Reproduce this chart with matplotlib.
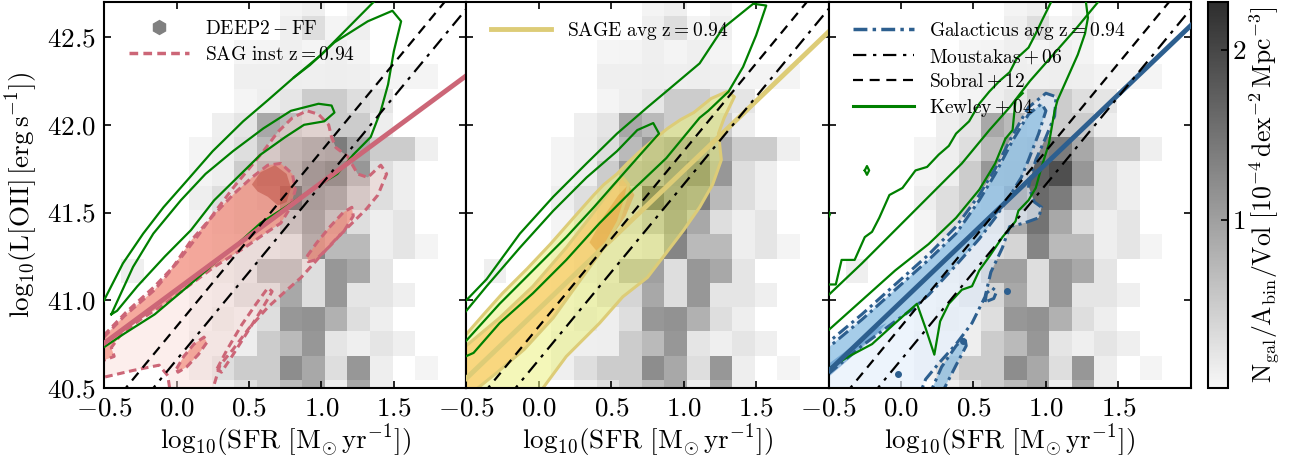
import numpy as np
import matplotlib
matplotlib.use("Agg")
import matplotlib.pyplot as plt
from matplotlib.colors import LinearSegmentedColormap
from matplotlib.lines import Line2D

plt.rcParams['font.family'] = 'serif'
plt.rcParams['font.serif'] = ['cmr10']
plt.rcParams['mathtext.fontset'] = 'cm'
plt.rcParams['axes.formatter.use_mathtext'] = True

# DEEP2 histogram (10^-4 dex^-2 Mpc^-3), rows bottom -> top
sfr_edges = [-0.537, -0.381, -0.225, -0.069, 0.087, 0.243, 0.399, 0.555, 0.711,
             0.867, 1.023, 1.179, 1.335, 1.491, 1.647, 1.803, 1.959]
loii_edges = [40.407, 40.545, 40.684, 40.822, 40.961, 41.099, 41.238, 41.376, 41.515,
              41.653, 41.792, 41.930, 42.069, 42.207, 42.346, 42.484, 42.623, 42.761]
deep2_density = [
    [0, 0, 0, 0, 0, 0.12, 0.3, 0.5, 0.7, 0.9, 0.12, 0.9, 0.12, 0, 0, 0],
    [0, 0, 0, 0, 0.1, 0.3, 0.5, 0.5, 1.2, 0.9, 0.3, 1.1, 0.12, 0, 0.05, 0],
    [0, 0, 0, 0, 0.1, 0.1, 0.12, 0.5, 0.7, 1.1, 0.22, 0.1, 0.22, 0.1, 0, 0],
    [0, 0, 0, 0, 0.05, 0.2, 0.12, 0.3, 1.1, 1.15, 0.8, 0.3, 0.12, 0, 0, 0],
    [0, 0, 0, 0, 0.05, 0.12, 0.4, 0.4, 0.9, 0.3, 1.1, 0.22, 0.22, 0.1, 0, 0],
    [0, 0.1, 0, 0, 0.05, 0.2, 0.3, 1.0, 1.0, 0.3, 1.1, 0.9, 0.22, 0, 0, 0],
    [0, 0, 0, 0, 0.05, 0.2, 0.3, 0.3, 0.4, 1.3, 0.7, 0.7, 0.12, 0.22, 0.05, 0],
    [0, 0, 0, 0, 0.05, 0.3, 0.5, 0.5, 0.9, 1.5, 0.9, 0.3, 0.12, 0.22, 0, 0],
    [0, 0, 0, 0, 0.12, 0.3, 0.5, 0.7, 2.28, 1.6, 1.4, 0.7, 0.3, 0.12, 0, 0],
    [0, 0, 0, 0, 0.05, 0.12, 0.5, 1.1, 1.2, 1.7, 1.9, 1.1, 0.3, 0.12, 0, 0],
    [0, 0, 0, 0, 0.05, 0.12, 0.3, 0.7, 1.1, 1.3, 1.4, 0.9, 0.5, 0.5, 0.1, 0],
    [0, 0, 0, 0, 0, 0.1, 0.22, 0.9, 0.7, 0.5, 0.5, 0.5, 0.12, 0, 0, 0],
    [0, 0, 0, 0, 0, 0, 0.05, 0.12, 0.2, 0.5, 0.5, 0.3, 0.22, 0, 0, 0],
    [0, 0, 0, 0, 0, 0, 0.1, 0.1, 0.12, 0.1, 0.12, 0.1, 0.05, 0.05, 0.05, 0],
    [0, 0, 0, 0, 0, 0, 0.03, 0.05, 0.1, 0.05, 0.1, 0.05, 0, 0, 0, 0],
    [0, 0, 0, 0, 0, 0, 0, 0, 0.1, 0.3, 0.05, 0.1, 0, 0, 0, 0],
    [0, 0, 0, 0, 0, 0, 0, 0, 0.05, 0.1, 0, 0.05, 0, 0, 0, 0],
]

# straight relations: (slope, intercept) in log10 L[OII] vs log10 SFR
moustakas06 = (1.0, 40.66)
sobral12 = (1.0, 40.85)
sag_fit = (0.61, 41.06)
sage_fit = (0.79, 40.95)
galacticus_fit = (0.788, 40.99)

# SAG inst contours (outer, middle, inner + islands)
sag_outer = [(-0.56, 40.75), (-0.35, 40.93), (-0.15, 41.08), (0.0, 41.21), (0.15, 41.37),
             (0.28, 41.52), (0.40, 41.65), (0.50, 41.75), (0.60, 41.85), (0.70, 41.96),
             (0.80, 42.04), (0.90, 42.08), (0.98, 42.06), (1.05, 42.0), (1.07, 41.93),
             (1.10, 41.87), (1.18, 41.82), (1.25, 41.72), (1.32, 41.70), (1.41, 41.77),
             (1.45, 41.72), (1.39, 41.60), (1.31, 41.52), (1.20, 41.43), (1.09, 41.34),
             (0.98, 41.24), (0.86, 41.13), (0.75, 41.05), (0.63, 40.96), (0.50, 40.84),
             (0.39, 40.72), (0.30, 40.63), (0.26, 40.52), (0.23, 40.40), (-0.03, 40.40),
             (-0.06, 40.57), (-0.12, 40.63), (-0.30, 40.60), (-0.56, 40.55)]
sag_mid = [(-0.56, 40.74), (-0.36, 40.91), (-0.15, 41.06), (-0.04, 41.17), (0.10, 41.34),
           (0.26, 41.49), (0.40, 41.61), (0.52, 41.70), (0.63, 41.77), (0.72, 41.78),
           (0.80, 41.72), (0.82, 41.63), (0.78, 41.52), (0.72, 41.44), (0.61, 41.38),
           (0.47, 41.30), (0.26, 41.19), (0.08, 41.08), (-0.08, 40.98), (-0.25, 40.89),
           (-0.38, 40.81), (-0.45, 40.73), (-0.43, 40.68), (-0.56, 40.64)]
sag_mid_b = [(0.90, 41.25), (0.97, 41.33), (1.06, 41.42), (1.15, 41.50), (1.21, 41.53),
             (1.22, 41.48), (1.16, 41.40), (1.06, 41.31), (0.96, 41.23), (0.91, 41.22)]
sag_mid_c = [(0.0, 40.61), (0.05, 40.68), (0.12, 40.75), (0.19, 40.79), (0.21, 40.76),
             (0.15, 40.69), (0.07, 40.62), (0.01, 40.59)]
sag_inner = [(0.52, 41.66), (0.58, 41.73), (0.68, 41.77), (0.76, 41.72), (0.79, 41.64),
             (0.76, 41.56), (0.70, 41.54), (0.63, 41.59), (0.56, 41.62)]
sag_hole = [(0.28, 40.61), (0.35, 40.72), (0.45, 40.86), (0.55, 40.98), (0.63, 41.07),
            (0.66, 41.05), (0.59, 40.95), (0.49, 40.82), (0.39, 40.69), (0.31, 40.59)]

# SAGE avg contours
sage_outer = [(-0.56, 40.75), (-0.38, 40.92), (-0.25, 41.04), (-0.08, 41.18), (0.08, 41.32),
              (0.24, 41.47), (0.38, 41.60), (0.45, 41.66), (0.54, 41.72), (0.61, 41.78),
              (0.70, 41.85), (0.80, 41.92), (0.89, 41.98), (0.98, 42.03), (1.07, 42.07),
              (1.19, 42.15), (1.30, 42.19), (1.35, 42.16), (1.28, 42.04), (1.24, 41.95),
              (1.26, 41.80), (1.20, 41.66), (1.11, 41.53), (1.0, 41.40), (0.88, 41.27),
              (0.75, 41.13), (0.58, 41.02), (0.42, 40.87), (0.19, 40.68), (-0.06, 40.40),
              (-0.56, 40.40)]
sage_mid = [(-0.56, 40.70), (-0.27, 40.90), (-0.04, 41.08), (0.19, 41.30), (0.35, 41.47),
            (0.45, 41.58), (0.52, 41.66), (0.58, 41.70), (0.62, 41.66), (0.60, 41.58),
            (0.55, 41.45), (0.45, 41.30), (0.30, 41.13), (0.10, 40.90), (-0.10, 40.72),
            (-0.30, 40.58), (-0.45, 40.48), (-0.56, 40.45)]
sage_inner = [(0.35, 41.33), (0.45, 41.48), (0.55, 41.60), (0.62, 41.66), (0.66, 41.60),
              (0.60, 41.48), (0.50, 41.36), (0.40, 41.28)]

# Galacticus avg contours
gal_outer = [(-0.56, 40.72), (-0.27, 40.92), (-0.04, 41.09), (0.19, 41.26), (0.38, 41.42),
             (0.54, 41.60), (0.65, 41.75), (0.77, 41.94), (0.88, 42.10), (1.0, 42.18),
             (1.07, 42.16), (1.06, 42.05), (1.0, 41.93), (0.93, 41.80), (0.88, 41.65),
             (0.92, 41.56), (0.97, 41.53), (0.95, 41.47), (0.85, 41.44), (0.75, 41.42),
             (0.70, 41.30), (0.62, 41.16), (0.58, 41.02), (0.49, 40.87), (0.38, 40.75),
             (0.26, 40.64), (0.17, 40.55), (0.10, 40.40), (-0.56, 40.40)]
gal_mid = [(-0.56, 40.69), (-0.27, 40.89), (-0.04, 41.06), (0.19, 41.23), (0.38, 41.38),
           (0.54, 41.57), (0.65, 41.72), (0.77, 41.91), (0.88, 42.06), (0.97, 42.12),
           (1.0, 42.08), (0.95, 41.95), (0.88, 41.80), (0.83, 41.70), (0.77, 41.62),
           (0.65, 41.47), (0.54, 41.35), (0.38, 41.20), (0.19, 41.03), (0.08, 40.95),
           (-0.04, 40.88), (-0.27, 40.74), (-0.56, 40.54)]
gal_mid_b = [(0.19, 40.45), (0.28, 40.62), (0.38, 40.74), (0.44, 40.79), (0.45, 40.74),
             (0.38, 40.63), (0.30, 40.50), (0.28, 40.45)]
gal_hook = [(0.58, 40.99), (0.59, 41.04), (0.63, 41.07), (0.66, 41.05), (0.64, 41.01)]
gal_inner = [(-0.56, 40.60), (-0.35, 40.73), (-0.2, 40.83), (-0.1, 40.87), (-0.2, 40.78),
             (-0.35, 40.67), (-0.56, 40.52)]
gal_dots_sfr = [0.73, 0.43, -0.02]
gal_dots_loii = [41.05, 40.77, 40.58]

# Kewley+04 contours, one set per model
kewley_sag = [
    [(-0.56, 40.91), (-0.5, 41.0), (-0.37, 41.21), (-0.23, 41.38), (-0.09, 41.53), (0.07, 41.68),
     (0.25, 41.85), (0.46, 42.02), (0.63, 42.14), (0.81, 42.27), (1.0, 42.40), (1.18, 42.55),
     (1.42, 42.75)],
    [(-0.56, 40.70), (-0.36, 40.81), (-0.15, 40.92), (0.08, 41.08), (0.26, 41.21), (0.42, 41.32),
     (0.58, 41.44), (0.75, 41.53), (0.93, 41.63), (1.11, 41.72), (1.22, 41.83), (1.34, 41.93),
     (1.41, 42.08), (1.46, 42.23), (1.50, 42.42), (1.55, 42.59), (1.49, 42.65), (1.32, 42.59),
     (1.09, 42.47), (0.92, 42.34), (0.81, 42.27)],
    [(-0.45, 40.92), (-0.30, 41.19), (-0.16, 41.38), (0.03, 41.57), (0.2, 41.72), (0.39, 41.85),
     (0.60, 41.98), (0.79, 42.08), (0.98, 42.12), (1.07, 42.11), (1.09, 42.07), (1.02, 42.02),
     (0.88, 42.0), (0.75, 41.93), (0.58, 41.83), (0.42, 41.70), (0.26, 41.57), (0.10, 41.40),
     (-0.08, 41.25), (-0.27, 41.08), (-0.41, 40.94), (-0.45, 40.92)],
]
kewley_sage = [
    [(-0.56, 40.93), (-0.5, 41.0), (-0.36, 41.12), (-0.13, 41.38), (0.10, 41.59), (0.33, 41.78),
     (0.54, 41.95), (0.75, 42.10), (0.88, 42.19), (1.11, 42.35), (1.27, 42.55), (1.48, 42.69),
     (1.57, 42.68), (1.50, 42.51), (1.41, 42.33), (1.31, 42.19), (1.17, 42.08), (1.11, 42.04),
     (0.88, 41.81), (0.65, 41.63), (0.42, 41.44), (0.19, 41.23), (-0.04, 41.04), (-0.27, 40.87),
     (-0.45, 40.70), (-0.56, 40.66)],
    [(-0.56, 40.88), (-0.5, 40.94), (-0.36, 41.08), (-0.13, 41.30), (0.10, 41.51), (0.33, 41.70),
     (0.54, 41.85), (0.68, 41.97), (0.79, 42.01), (0.83, 41.95), (0.70, 41.83), (0.54, 41.68),
     (0.38, 41.53), (0.19, 41.36), (-0.04, 41.17), (-0.27, 40.98), (-0.5, 40.77), (-0.56, 40.73)],
]
kewley_gal = [
    [(-0.56, 41.09), (-0.45, 41.09), (-0.41, 41.23), (-0.32, 41.23), (-0.25, 41.36), (-0.20, 41.39),
     (-0.15, 41.47), (-0.08, 41.60), (0.01, 41.64), (0.10, 41.74), (0.18, 41.76), (0.26, 41.83),
     (0.33, 41.88), (0.38, 41.95), (0.47, 42.02), (0.54, 42.12), (0.61, 42.19), (0.68, 42.25),
     (0.75, 42.30), (0.80, 42.38), (0.88, 42.44), (0.93, 42.52), (0.97, 42.59), (1.06, 42.74)],
    [(-0.56, 40.98), (-0.5, 41.03), (-0.27, 41.21), (-0.04, 41.40), (0.19, 41.59), (0.42, 41.78),
     (0.61, 41.97), (0.75, 42.10), (0.89, 42.25), (1.05, 42.40), (1.21, 42.55), (1.40, 42.74)],
    [(1.27, 42.74), (1.29, 42.61), (1.27, 42.52), (1.22, 42.40), (1.15, 42.27), (1.08, 42.14),
     (1.06, 42.08), (1.02, 41.89), (0.97, 41.76), (0.93, 41.64), (0.88, 41.57), (0.81, 41.51),
     (0.79, 41.45), (0.76, 41.42), (0.70, 41.36), (0.61, 41.25), (0.54, 41.17), (0.49, 41.08),
     (0.42, 41.06), (0.33, 40.98), (0.27, 40.88), (0.23, 40.69), (0.17, 40.84), (0.11, 40.98),
     (-0.04, 40.87), (-0.20, 40.75), (-0.36, 40.68), (-0.5, 40.61), (-0.56, 40.59)],
    [(-0.56, 40.79), (-0.5, 40.83), (-0.27, 41.0), (-0.04, 41.17), (0.19, 41.32), (0.38, 41.47),
     (0.54, 41.63), (0.65, 41.78), (0.72, 41.92), (0.77, 41.97), (0.79, 42.14), (0.84, 42.18)],
    [(-0.25, 41.74), (-0.235, 41.765), (-0.22, 41.74), (-0.235, 41.715), (-0.25, 41.74)],
    [(-0.51, 41.46), (-0.49, 41.49), (-0.51, 41.52)],
]

SAG_C = '#CC6677'
SAGE_C = '#DDCC77'
GAL_C = '#2D5F8F'

grey_cmap = LinearSegmentedColormap.from_list('deep2', ['#f7f7f7', '#2e2e2e'])
dens = np.ma.masked_less_equal(np.array(deep2_density), 0)

fig = plt.figure(figsize=(13.04, 4.66), dpi=100)
left, width, bottom, height = 0.0798, 0.2778, 0.1674, 0.8283
axes = [fig.add_axes([left + i * width, bottom, width, height]) for i in range(3)]
sfr_line = np.array([-0.6, 2.1])


def draw_poly(ax, poly, face, edge, ls, lw=2.2, z=2, outline=True):
    xs, ys = zip(*poly)
    if face is not None:
        ax.fill(xs, ys, color=face, lw=0, zorder=z)
    if outline:
        ax.plot(list(xs) + [xs[0]], list(ys) + [ys[0]], color=edge, ls=ls, lw=lw, zorder=z + 0.5)


for i, ax in enumerate(axes):
    mesh = ax.pcolormesh(sfr_edges, loii_edges, dens, cmap=grey_cmap, vmin=0.01, vmax=2.28,
                         zorder=0)
    ax.set_xlim(-0.5, 2.0)
    ax.set_ylim(40.5, 42.7)
    ax.set_xticks([-0.5, 0.0, 0.5, 1.0, 1.5])
    ax.set_yticks([40.5, 41.0, 41.5, 42.0, 42.5])
    ax.tick_params(direction='in', top=True, right=True, length=5, width=1.2,
                   labelsize=19.5, pad=6)
    for sp in ax.spines.values():
        sp.set_linewidth(1.5)
    ax.set_xlabel(r'$\mathrm{log}_{10}(\rm SFR\ [M_{\odot}\,yr^{-1}])$', fontsize=19.5,
                  labelpad=2)
    ax.xaxis.set_major_formatter(matplotlib.ticker.FormatStrFormatter('$%.1f$'))
    if i > 0:
        ax.tick_params(labelleft=False)

ax1, ax2, ax3 = axes
ax1.set_ylabel(r'$\mathrm{log}_{10}(\rm L[OII]\,[erg\,s^{-1}])$', fontsize=19.5, labelpad=4)
ax1.yaxis.set_major_formatter(matplotlib.ticker.FormatStrFormatter('$%.1f$'))

# panel 1: SAG
draw_poly(ax1, sag_outer, (0.98, 0.86, 0.84, 0.45), SAG_C, (0, (2.5, 1.5)))
draw_poly(ax1, sag_hole, None, SAG_C, (0, (2.5, 1.5)))
for p in (sag_mid, sag_mid_b, sag_mid_c):
    draw_poly(ax1, p, (0.95, 0.52, 0.45, 0.65), SAG_C, (0, (2.5, 1.5)))
draw_poly(ax1, sag_inner, (0.70, 0.25, 0.20, 0.45), SAG_C, '-', outline=False)
ax1.plot(sfr_line, sag_fit[1] + sag_fit[0] * sfr_line, color=SAG_C, lw=3.5, zorder=5)

# panel 2: SAGE
draw_poly(ax2, sage_outer, (0.92, 0.95, 0.50, 0.55), SAGE_C, '-')
draw_poly(ax2, sage_mid, (0.99, 0.78, 0.38, 0.65), SAGE_C, '-')
draw_poly(ax2, sage_inner, (0.88, 0.62, 0.22, 0.5), SAGE_C, '-', outline=False)
ax2.plot(sfr_line, sage_fit[1] + sage_fit[0] * sfr_line, color=SAGE_C, lw=3.5, zorder=5)

# panel 3: Galacticus
gal_ls = (0, (4, 1.5, 1, 1.5))
draw_poly(ax3, gal_outer, (0.90, 0.94, 0.99, 0.7), GAL_C, gal_ls)
draw_poly(ax3, gal_mid, (0.50, 0.72, 0.88, 0.65), GAL_C, gal_ls)
draw_poly(ax3, gal_mid_b, (0.50, 0.72, 0.88, 0.65), GAL_C, gal_ls)
draw_poly(ax3, gal_hook, None, GAL_C, gal_ls)
draw_poly(ax3, gal_inner, (0.30, 0.55, 0.78, 0.55), GAL_C, '-', outline=False)
ax3.plot(gal_dots_sfr, gal_dots_loii, 'o', color=GAL_C, ms=4, zorder=3)
ax3.plot(sfr_line, galacticus_fit[1] + galacticus_fit[0] * sfr_line, color=GAL_C, lw=3.5, zorder=5)

for ax, kset in zip(axes, (kewley_sag, kewley_sage, kewley_gal)):
    for seg in kset:
        xs, ys = zip(*seg)
        ax.plot(xs, ys, color='green', lw=1.6, zorder=4)
    ax.plot(sfr_line, moustakas06[1] + moustakas06[0] * sfr_line, color='k', lw=1.6,
            ls=(0, (6, 3, 1.5, 3)), zorder=6)
    ax.plot(sfr_line, sobral12[1] + sobral12[0] * sfr_line, color='k', lw=1.6,
            ls=(0, (4.5, 3)), zorder=6)

# legends
h_deep2 = Line2D([], [], color='#808080', marker='h', ls='none', markersize=10)
h_sag = Line2D([], [], color=SAG_C, ls=(0, (2.5, 1.5)), lw=2.5)
ax1.legend([h_deep2, h_sag], [r'$\rm DEEP2-FF$', r'$\rm SAG\ inst\ z=0.94$'],
           loc='upper left', bbox_to_anchor=(0.02, 1.0), frameon=False, fontsize=14,
           handlelength=3.1, handletextpad=0.8, labelspacing=0.45)
h_sage = Line2D([], [], color=SAGE_C, lw=3.5)
ax2.legend([h_sage], [r'$\rm SAGE\ avg\ z=0.94$'], loc='upper left',
           bbox_to_anchor=(0.02, 1.0), frameon=False, fontsize=14,
           handlelength=3.1, handletextpad=0.8)
h_gal = Line2D([], [], color=GAL_C, lw=2.5, ls=gal_ls)
h_mou = Line2D([], [], color='k', lw=1.6, ls=(0, (6, 3, 1.5, 3)))
h_sob = Line2D([], [], color='k', lw=1.6, ls=(0, (4.5, 3)))
h_kew = Line2D([], [], color='green', lw=2.2)
ax3.legend([h_gal, h_mou, h_sob, h_kew],
           [r'$\rm Galacticus\ avg\ z=0.94$', r'$\rm Moustakas+06$', r'$\rm Sobral+12$',
            r'$\rm Kewley+04$'],
           loc='upper left', bbox_to_anchor=(0.02, 1.0), frameon=False, fontsize=14,
           handlelength=3.1, handletextpad=0.8, labelspacing=0.3)

cax = fig.add_axes([0.9264, bottom, 0.0153, height])
cb = fig.colorbar(mesh, cax=cax)
cb.set_ticks([1, 2])
cb.ax.yaxis.set_major_formatter(matplotlib.ticker.FormatStrFormatter('$%d$'))
cb.ax.tick_params(direction='in', length=5, width=1.2, labelsize=19.5, pad=3)
cb.outline.set_linewidth(1.5)
cb.set_label(r'$\rm N_{gal}/A_{bin}/Vol\ [10^{-4}\,dex^{-2}\,Mpc^{-3}]$', fontsize=18.5,
             labelpad=1)

fig.savefig('out.png', dpi=100)
